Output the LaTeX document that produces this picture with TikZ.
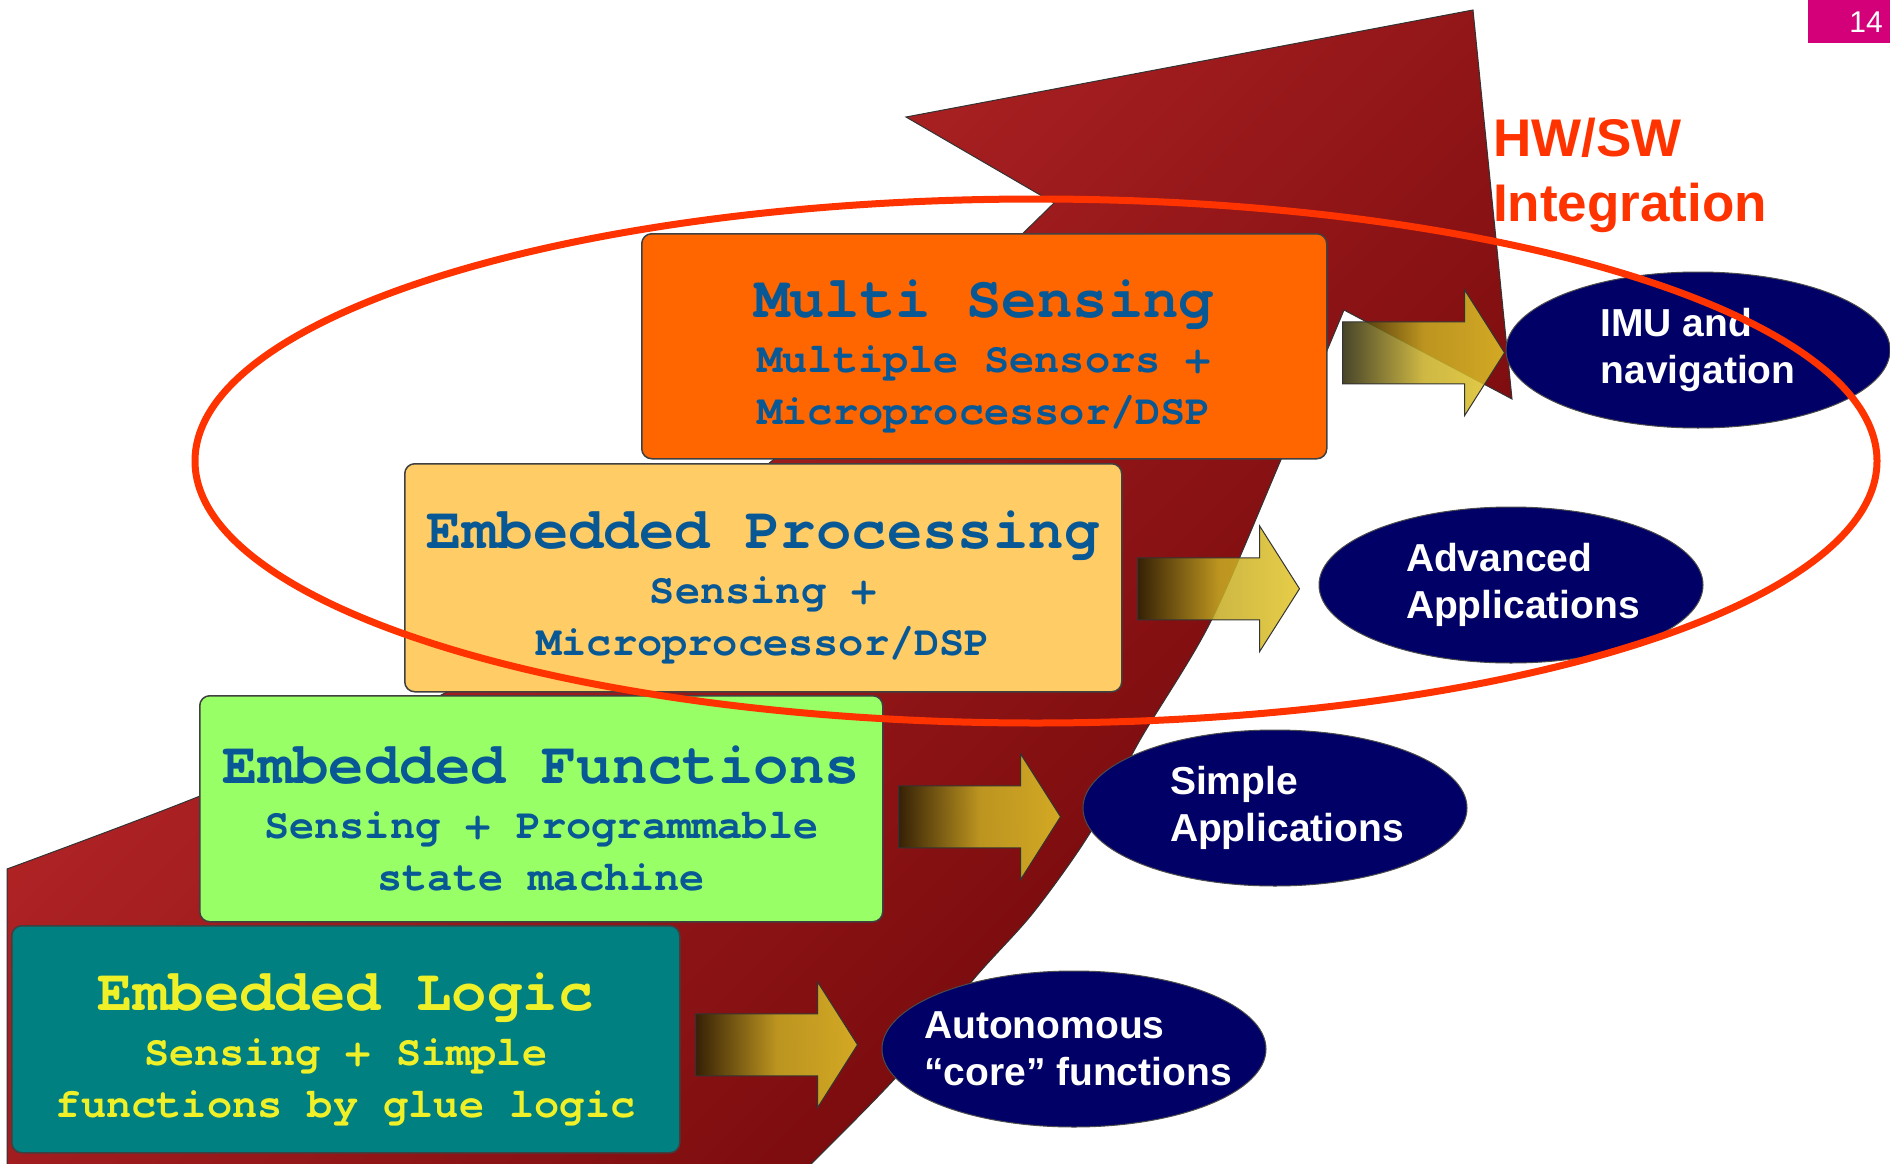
\documentclass[tikz,border=0pt]{standalone}
\usepackage{fontspec}
\setmainfont{Liberation Sans}
\setmonofont{Liberation Mono}
\newfontfamily\stagemono{texgyrecursor-bold.otf}
\usepackage{xcolor}
\usepackage{tikz}
\usetikzlibrary{shapes.geometric}

\definecolor{arrowlight}{RGB}{196,44,46}
\definecolor{arrowdark}{RGB}{110,6,8}
\definecolor{msfill}{RGB}{255,102,0}
\definecolor{epfill}{RGB}{255,204,102}
\definecolor{effill}{RGB}{153,255,102}
\definecolor{elfill}{RGB}{0,128,128}
\definecolor{stageblue}{RGB}{8,88,150}
\definecolor{stageyellow}{RGB}{240,240,40}
\definecolor{applnavy}{RGB}{0,0,102}
\definecolor{hwred}{RGB}{255,51,0}
\definecolor{pagepink}{RGB}{212,0,122}
\definecolor{fatdark}{RGB}{40,36,4}
\definecolor{fatgold}{RGB}{226,196,40}

\newcommand{\stagefont}{\fontsize{42}{52}\selectfont\stagemono}
\newcommand{\stagehead}[1]{{\fontsize{59}{52}\selectfont\rule{0pt}{58pt}#1}\\[3pt]}
\newcommand{\fatarrow}[2]{%
  \shadedraw[fatarrow] ([shift={(15,#2)}]#1.east) ++(0,-31) -- ++(122,0) -- ++(0,-32)
    -- ++(40,63) -- ++(-40,63) -- ++(0,-32) -- ++(-122,0) -- cycle;}

\tikzset{
  stage/.style={draw=black!75, line width=1.5, rounded corners=10, anchor=north west,
    inner sep=0, align=center, font=\stagefont},
  appl/.style={ellipse, draw=black!70, line width=1, fill=applnavy,
    minimum width=384, minimum height=156, inner sep=0},
  appltext/.style={text=white, align=left, font=\fontsize{39}{47}\selectfont\bfseries, inner sep=0},
  fatarrow/.style={draw=black!80, line width=1, left color=fatdark, right color=fatgold,
    middle color=fatgold!85!fatdark, fill opacity=0.85, draw opacity=1},
  bigarrow/.style={draw=black!80, line width=1, top color=arrowlight, bottom color=arrowdark,
    shading angle=45},
}

\begin{document}
\begin{tikzpicture}[x=1pt,y=-1pt]
    \useasboundingbox (0,0) rectangle (1890,1164);

    % growth arrow behind everything
    \shadedraw[bigarrow] plot[smooth] coordinates {(7,869) (200,796) (447,692) (620,578) (773,460) (930,322) (1054,203)}
        -- (906,117) -- (1473,10) -- (1512,399) -- (1344,310)
        -- plot[smooth] coordinates {(1344,310) (1280,462) (1210,623) (1140,740) (1090,833) (1033,913) (973,980) (900,1073) (805,1170)}
        -- (7,1170) -- cycle;

    \node[stage, fill=msfill, text=stageblue, minimum width=685, minimum height=225] (ms) at (641,233)
        {\stagehead{Multi Sensing}Multiple Sensors +\\Microprocessor/DSP};
    \node[stage, fill=epfill, text=stageblue, minimum width=717, minimum height=228] (ep) at (404,463)
        {\stagehead{Embedded Processing}Sensing +\\Microprocessor/DSP};
    \node[stage, fill=effill, text=stageblue, minimum width=683, minimum height=226] (ef) at (199,695)
        {\stagehead{Embedded Functions}Sensing + Programmable\\state machine};
    \node[stage, fill=elfill, text=stageyellow, minimum width=668, minimum height=227] (el) at (11,925)
        {\stagehead{Embedded Logic}Sensing + Simple\\functions by glue logic};

    \fatarrow{ms}{6.5}
    \fatarrow{ep}{11}
    \fatarrow{ef}{8}
    \fatarrow{el}{5.5}

    \node[appl, label={[appltext]center:{IMU and\\navigation}}] (imu) at (1698,350) {};
    \node[appl, label={[appltext, xshift=12]center:{Advanced\\Applications}}] (adv) at (1511,585) {};
    \node[appl, label={[appltext, xshift=12]center:{Simple\\Applications}}] (simple) at (1275,808) {};
    \node[appl, label={[appltext, xshift=4]center:{Autonomous\\“core” functions}}] (auton) at (1074,1049) {};

    \node[anchor=north west, inner sep=0, align=left, text=hwred,
        font=\fontsize{53}{65}\selectfont\bfseries] (hwsw) at (1493,118) {HW/SW\\Integration};

    % ring round the upper two stages
    \draw[hwred, line width=7] (1036,461) ellipse [x radius=841, y radius=262];

    \node[fill=pagepink, anchor=north east, minimum width=82, minimum height=43, inner sep=0] (pagebox) at (1890,0) {};
    \node[anchor=east, text=white, font=\fontsize{30}{30}\selectfont, inner sep=0] (pagenum) at ([xshift=-7]pagebox.east) {14};
\end{tikzpicture}
\end{document}
